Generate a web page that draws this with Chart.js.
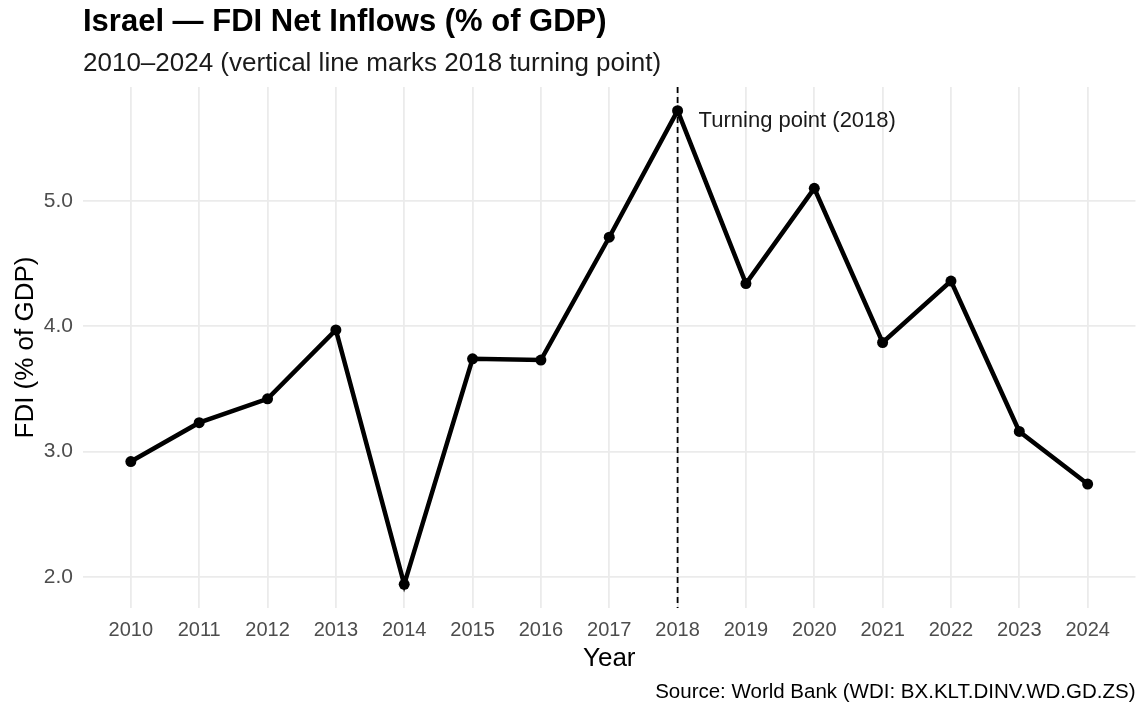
<!DOCTYPE html>
<html>
<head>
<meta charset="utf-8">
<script src="https://cdn.jsdelivr.net/npm/chart.js@4/dist/chart.umd.min.js"></script>
<style>
  html, body { margin: 0; padding: 0; background: #ffffff; }
  #wrap { width: 1141px; height: 704px; }
</style>
</head>
<body>
<div id="wrap"><canvas id="c" width="1141" height="704"></canvas></div>
<script>
const years = [2010, 2011, 2012, 2013, 2014, 2015, 2016, 2017, 2018, 2019, 2020, 2021, 2022, 2023, 2024];
const fdiValues = [2.92, 3.23, 3.42, 3.97, 1.94, 3.74, 3.73, 4.71, 5.72, 4.34, 5.10, 3.87, 4.36, 3.16, 2.74];
const yTicks = [2, 3, 4, 5];
const turningYear = 2018;
const turningLabel = "Turning point (2018)";
const titleText = "Israel — FDI Net Inflows (% of GDP)";
const subtitleText = "2010–2024 (vertical line marks 2018 turning point)";
const xTitle = "Year";
const yTitle = "FDI (% of GDP)";
const sourceText = "Source: World Bank (WDI: BX.KLT.DINV.WD.GD.ZS)";

const FONT = "'Liberation Sans', Arial, Helvetica, sans-serif";

const points = years.map((y, i) => ({ x: y, y: fdiValues[i] }));
const yMin = Math.min(...fdiValues), yMax = Math.max(...fdiValues);
const yPad = (yMax - yMin) * 0.05;
const xPad = (years[years.length - 1] - years[0]) * 0.05;

const decor = {
  id: 'decor',
  beforeDraw(chart) {
    const ctx = chart.ctx;
    ctx.save();
    ctx.fillStyle = '#ffffff';
    ctx.fillRect(0, 0, chart.width, chart.height);
    ctx.restore();
  },
  beforeDatasetsDraw(chart) {
    const ctx = chart.ctx;
    const xs = chart.scales.x;
    const a = chart.chartArea;
    const px = xs.getPixelForValue(turningYear);
    ctx.save();
    ctx.strokeStyle = '#000000';
    ctx.lineWidth = 1.8;
    ctx.setLineDash([6, 4]);
    ctx.beginPath();
    ctx.moveTo(px, a.top);
    ctx.lineTo(px, a.bottom);
    ctx.stroke();
    ctx.restore();
  },
  afterDraw(chart) {
    const ctx = chart.ctx;
    const xs = chart.scales.x, ys = chart.scales.y;
    const a = chart.chartArea;
    ctx.save();
    ctx.textBaseline = 'alphabetic';
    ctx.fillStyle = '#000000';
    ctx.textAlign = 'left';
    ctx.font = "bold 31px " + FONT;
    ctx.fillText(titleText, a.left, 31);
    ctx.fillStyle = '#1a1a1a';
    ctx.font = "26px " + FONT;
    ctx.fillText(subtitleText, a.left, 71);

    // annotation
    ctx.font = "22px " + FONT;
    ctx.fillStyle = '#1a1a1a';
    ctx.textBaseline = 'middle';
    const tIdx = years.indexOf(turningYear);
    ctx.fillText(turningLabel, xs.getPixelForValue(turningYear) + 21, ys.getPixelForValue(fdiValues[tIdx]) + 10);

    // axis titles
    ctx.fillStyle = '#000000';
    ctx.font = "26px " + FONT;
    ctx.textAlign = 'center';
    ctx.textBaseline = 'alphabetic';
    ctx.fillText(xTitle, (a.left + a.right) / 2, 666);
    ctx.save();
    ctx.translate(33, (a.top + a.bottom) / 2);
    ctx.rotate(-Math.PI / 2);
    ctx.fillText(yTitle, 0, 0);
    ctx.restore();

    // source
    ctx.textAlign = 'right';
    ctx.font = "20.5px " + FONT;
    ctx.fillStyle = '#000000';
    ctx.fillText(sourceText, a.right, 698);
    ctx.restore();
  }
};

new Chart(document.getElementById('c'), {
  type: 'line',
  data: {
    datasets: [{
      data: points,
      borderColor: '#000000',
      backgroundColor: '#000000',
      borderWidth: 4.5,
      pointRadius: 5.5,
      pointHoverRadius: 5.5,
      pointBackgroundColor: '#000000',
      pointBorderWidth: 0,
      tension: 0,
      fill: false
    }]
  },
  options: {
    responsive: false,
    devicePixelRatio: 1,
    animation: false,
    events: [],
    layout: { padding: { top: 87, left: 0, right: 3, bottom: 0 } },
    plugins: {
      legend: { display: false },
      title: { display: false },
      tooltip: { enabled: false }
    },
    scales: {
      x: {
        type: 'linear',
        min: years[0] - xPad,
        max: years[years.length - 1] + xPad,
        afterBuildTicks(scale) { scale.ticks = years.map(v => ({ value: v })); },
        afterFit(scale) { scale.height = 96; },
        grid: { color: '#ebebeb', lineWidth: 1.8, drawTicks: false },
        border: { display: false },
        ticks: {
          padding: 10,
          color: '#4d4d4d',
          font: { family: FONT, size: 20 },
          maxRotation: 0,
          autoSkip: false,
          callback: v => String(v)
        }
      },
      y: {
        type: 'linear',
        min: yMin - yPad,
        max: yMax + yPad,
        afterBuildTicks(scale) { scale.ticks = yTicks.map(v => ({ value: v })); },
        afterFit(scale) { scale.width = 83; },
        grid: { color: '#ebebeb', lineWidth: 1.8, drawTicks: false },
        border: { display: false },
        ticks: {
          padding: 10,
          color: '#4d4d4d',
          font: { family: FONT, size: 21 },
          callback: v => v.toFixed(1)
        }
      }
    }
  },
  plugins: [decor]
});
</script>
</body>
</html>
